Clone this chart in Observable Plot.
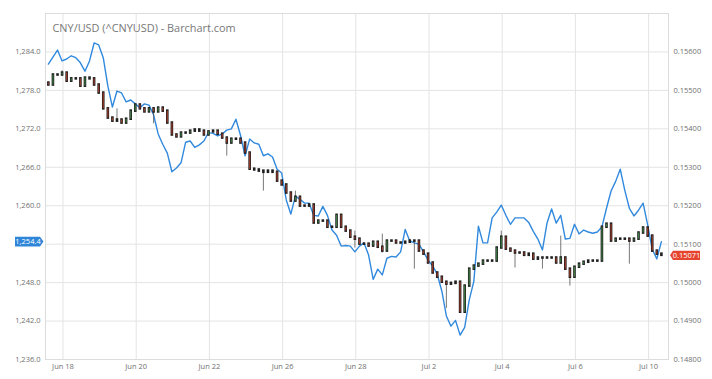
<!DOCTYPE html>
<html><head><meta charset="utf-8">
<script src="https://cdn.jsdelivr.net/npm/d3@7"></script>
<script src="https://cdn.jsdelivr.net/npm/@observablehq/plot@0.6"></script>
<style>body{margin:0;background:#fff;}</style>
</head><body><div id="chart"></div>
<script>
const title = "CNY/USD (^CNYUSD) - Barchart.com";
const tickDays = [0, 2, 4, 6, 8, 10, 12, 14, 16];
const tickLabels = ["Jun 18", "Jun 20", "Jun 22", "Jun 26", "Jun 28", "Jul 2", "Jul 4", "Jul 6", "Jul 10"];
const leftTicks = [1236, 1242, 1248, 1254, 1260, 1266, 1272, 1278, 1284];
const rightTicks = [0.148, 0.149, 0.150, 0.151, 0.152, 0.153, 0.154, 0.155, 0.156];

// CNY/USD bars (3-hour), trading-day index; open of first bar, then closes
const firstDay = -0.4, barStep = 0.125;
const firstOpen = 0.15519;
const closes = [
 0.15514,0.15540,0.15540,0.15545,0.15524,0.15530,0.15530,0.15511,0.15532,0.15530,
 0.15514,0.15493,0.15452,0.15428,0.15420,0.15423,0.15415,0.15425,0.15446,0.15462,
 0.15452,0.15444,0.15452,0.15444,0.15454,0.15446,0.15415,0.15384,0.15379,0.15389,
 0.15389,0.15394,0.15397,0.15394,0.15384,0.15392,0.15394,0.15386,0.15376,0.15363,
 0.15373,0.15373,0.15363,0.15337,0.15295,0.15293,0.15290,0.15287,0.15290,0.15287,
 0.15264,0.15254,0.15233,0.15212,0.15222,0.15199,0.15199,0.15202,0.15155,0.15160,
 0.15160,0.15144,0.15144,0.15175,0.15144,0.15134,0.15118,0.15113,0.15100,0.15100,
 0.15095,0.15105,0.15092,0.15082,0.15108,0.15108,0.15103,0.15103,0.15105,0.15108,
 0.15108,0.15082,0.15074,0.15051,0.15025,0.15014,0.15001,0.14996,0.14998,0.15001,
 0.14923,0.14991,0.15035,0.15043,0.15048,0.15056,0.15056,0.15056,0.15090,0.15118,
 0.15087,0.15082,0.15077,0.15077,0.15071,0.15074,0.15061,0.15064,0.15064,0.15064,
 0.15064,0.15051,0.15064,0.15035,0.15014,0.15040,0.15048,0.15053,0.15056,0.15056,
 0.15056,0.15144,0.15152,0.15108,0.15113,0.15113,0.15113,0.15108,0.15113,0.15129,
 0.15142,0.15121,0.15082,0.15074,0.15071];
const wickHigh = {3:0.15551, 15:0.15452, 54:0.15238, 67:0.15134, 73:0.15126, 99:0.15134, 112:0.15121, 130:0.15144};
const wickLow = {23:0.15413, 39:0.15329, 47:0.15238, 67:0.15090, 73:0.15077, 80:0.15035, 87:0.14933, 102:0.15038, 108:0.15035, 114:0.14991, 127:0.15048};

// comparison series (left axis)
const compare = [
 1282.1,1283.2,1284.3,1282.6,1282.9,1283.4,1283.1,1282.3,1281.0,1282.6,
 1285.4,1285.1,1283.1,1278.7,1275.4,1277.9,1277.6,1276.2,1276.5,1275.9,
 1275.3,1275.9,1275.7,1274.2,1271.2,1269.6,1268.2,1265.3,1265.9,1266.7,
 1269.9,1270.1,1269.1,1269.5,1270.1,1271.4,1271.3,1270.9,1271.2,1271.8,
 1272.0,1273.5,1271.0,1267.8,1270.4,1269.8,1269.6,1267.8,1268.1,1267.6,
 1265.7,1265.1,1260.9,1258.7,1261.5,1261.0,1260.4,1260.4,1258.5,1258.4,
 1259.9,1258.5,1256.2,1255.4,1253.7,1253.8,1253.7,1252.8,1253.7,1254.2,
 1252.3,1248.5,1250.1,1249.2,1251.8,1252.1,1252.0,1252.8,1256.3,1254.5,
 1254.2,1254.0,1252.8,1251.5,1250.6,1249.3,1246.7,1242.8,1241.2,1242.1,
 1239.8,1241.0,1245.3,1248.2,1256.8,1254.2,1254.2,1258.1,1259.0,1260.1,
 1258.5,1257.1,1258.1,1258.1,1258.1,1257.4,1256.0,1254.8,1253.1,1257.3,
 1259.5,1257.3,1258.5,1254.8,1254.9,1257.1,1255.6,1256.2,1255.9,1255.7,
 1255.9,1256.7,1259.6,1262.3,1263.8,1265.7,1262.4,1259.6,1258.4,1259.3,
 1260.4,1257.0,1253.2,1251.7,1254.4];

// map right-axis values onto the left-axis scale (0.156 ↔ 1284, 0.001 ↔ 6)
const toLeft = v => 1284 + (v - 0.156) * 6000;
const toRight = y => (y - 1284) / 6000 + 0.156;

const bars = closes.map((c, i) => {
  const o = i ? closes[i - 1] : firstOpen;
  const hi = Math.max(o, c, wickHigh[i] ?? -Infinity);
  const lo = Math.min(o, c, wickLow[i] ?? Infinity);
  return {t: firstDay + barStep * i, o, c, hi, lo};
});
const bodyColor = d => Math.abs(d.c - d.o) < 0.000035 ? "#222" : (d.c > d.o ? "#3f7a44" : "#9a3a2a");

const lastCompare = compare[compare.length - 1];
const lastClose = closes[closes.length - 1];
// tick labels hidden underneath a current-value tag
const leftFmt = d => Math.abs(d - lastCompare) < 1.5 ? "" : d3.format(",.1f")(d);
const rightFmt = y => Math.abs(y - toLeft(lastClose)) < 1.5 ? "" : toRight(y).toFixed(5);

const tagLeft = {draw(ctx) {
  ctx.moveTo(-14, -4.8); ctx.lineTo(11, -4.8); ctx.lineTo(14.5, 0); ctx.lineTo(11, 4.8); ctx.lineTo(-14, 4.8); ctx.closePath();
}};
const tagRight = {draw(ctx) {
  ctx.moveTo(-16.5, 0); ctx.lineTo(-13.5, -4.6); ctx.lineTo(13.5, -4.6); ctx.lineTo(13.5, 4.6); ctx.lineTo(-13.5, 4.6); ctx.closePath();
}};

const chart = Plot.plot({
  width: 712, height: 379,
  marginTop: 13, marginRight: 44, marginBottom: 20, marginLeft: 45,
  style: {fontFamily: "'Open Sans', sans-serif", background: "white", color: "#707070"},
  x: {domain: [-0.478, 16.544]},
  y: {domain: [1236, 1290]},
  marks: [
    Plot.gridY({ticks: leftTicks, stroke: "#e4e4e4", strokeOpacity: 1}),
    Plot.gridX({ticks: tickDays, stroke: "#e4e4e4", strokeOpacity: 1}),
    Plot.frame({stroke: "#dcdcdc"}),
    Plot.axisY({ticks: leftTicks, anchor: "left", tickSize: 0, tickPadding: 5, fontSize: 7.5,
      tickFormat: leftFmt, label: null}),
    Plot.axisY({ticks: rightTicks.map(toLeft), anchor: "right", tickSize: 0, tickPadding: 5, fontSize: 7.5,
      tickFormat: rightFmt, label: null}),
    Plot.axisX({ticks: tickDays, tickSize: 0, tickPadding: 4, fontSize: 7.5,
      tickFormat: d => tickLabels[tickDays.indexOf(d)], label: null}),
    Plot.text([title], {frameAnchor: "top-left", dx: 7, dy: 11, text: d => d, textAnchor: "start",
      fontSize: 10.9, fill: "#777"}),
    Plot.line(compare, {x: (d, i) => firstDay + barStep * i, y: d => d, stroke: "#3189dd", strokeWidth: 1.4}),
    Plot.ruleX(bars, {x: "t", y1: d => toLeft(d.lo), y2: d => toLeft(d.hi), stroke: "#555", strokeWidth: 0.8}),
    Plot.ruleX(bars, {x: "t", y1: d => toLeft(d.o), y2: d => toLeft(d.c), stroke: "#1e1e1e", strokeWidth: 2.6, strokeLinecap: "square"}),
    Plot.ruleX(bars, {x: "t", y1: d => toLeft(d.o), y2: d => toLeft(d.c), stroke: bodyColor, strokeWidth: 1.2}),
    Plot.dot([lastCompare], {y: d => d, frameAnchor: "left", dx: -16.5, symbol: tagLeft, fill: "#2f86d9", stroke: "none"}),
    Plot.text([lastCompare], {y: d => d, frameAnchor: "left", dx: -17.5, textAnchor: "middle",
      text: d => d3.format(",.1f")(d), fill: "white", fontSize: 7.5}),
    Plot.dot([lastClose], {y: d => toLeft(d), frameAnchor: "right", dx: 18, symbol: tagRight, fill: "#e5452f", stroke: "none"}),
    Plot.text([lastClose], {y: d => toLeft(d), frameAnchor: "right", dx: 18, textAnchor: "middle",
      text: d => d.toFixed(5), fill: "white", fontSize: 7.5})
  ]
});
document.getElementById("chart").appendChild(chart);
</script>
</body></html>
